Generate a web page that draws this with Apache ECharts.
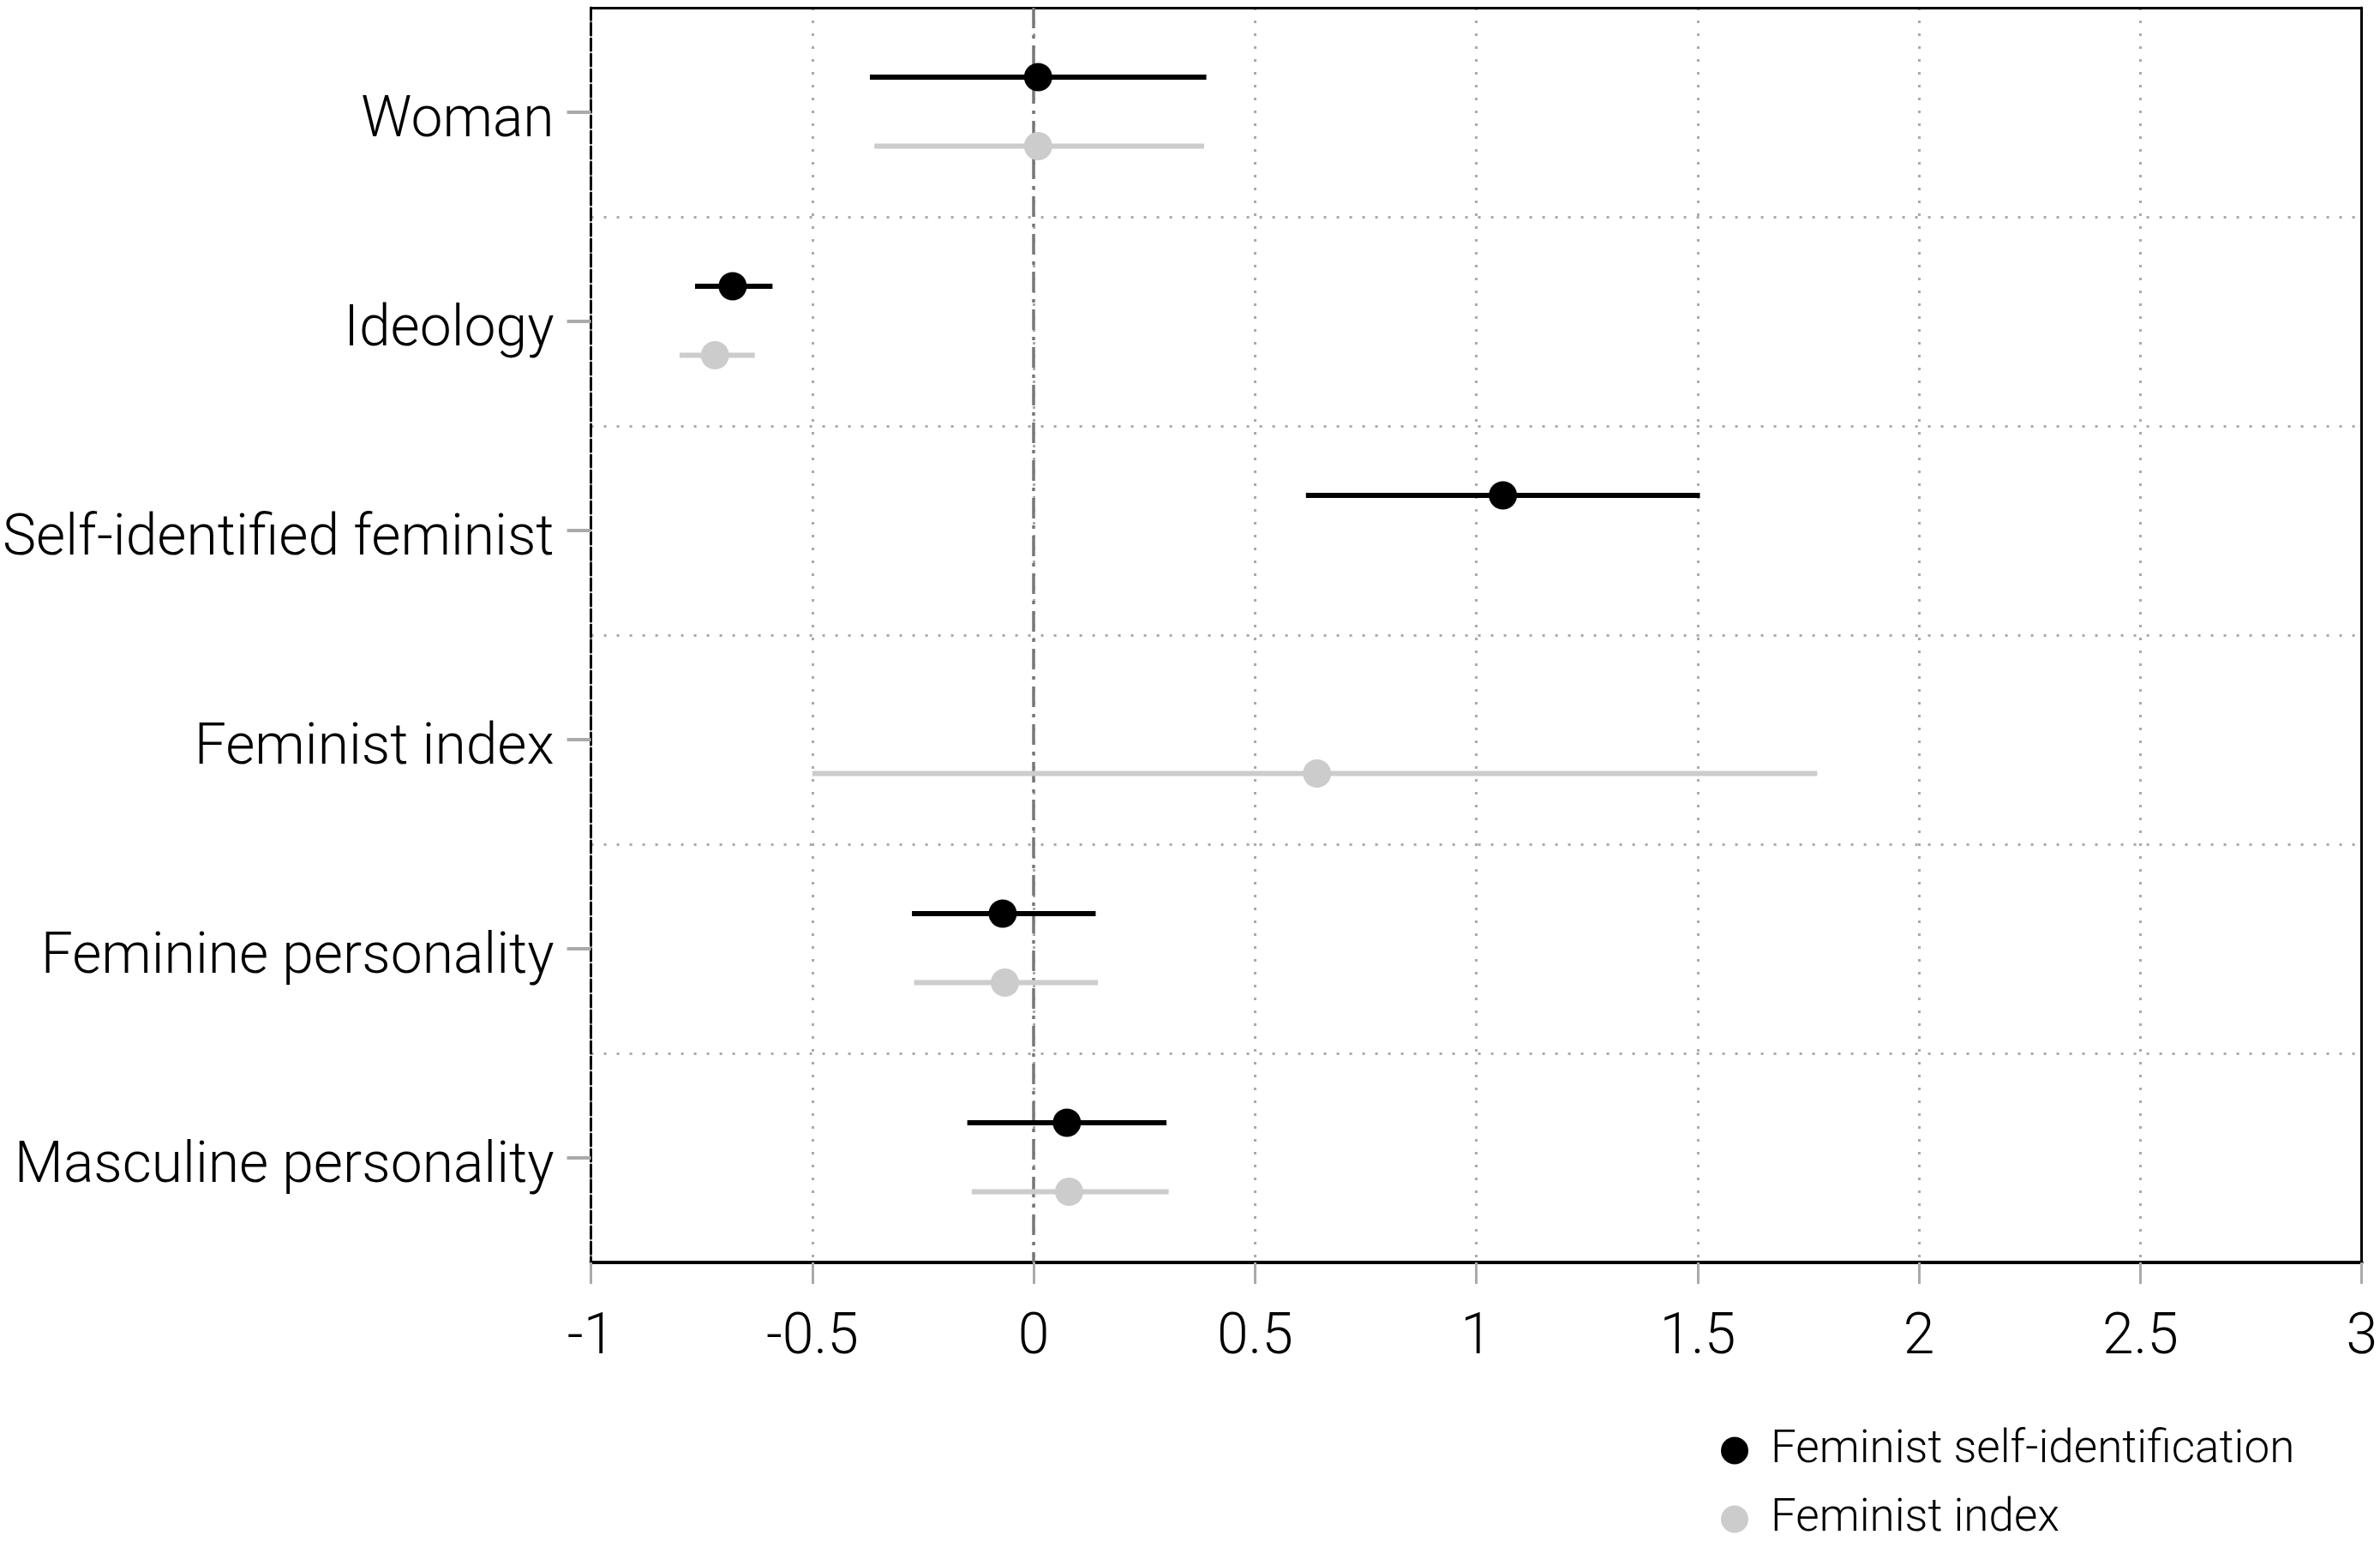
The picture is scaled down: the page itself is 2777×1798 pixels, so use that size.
<!DOCTYPE html>
<html>
<head>
<meta charset="utf-8">
<script src="https://cdn.jsdelivr.net/npm/echarts@6/dist/echarts.min.js"></script>
<style>
html,body{margin:0;padding:0;background:#fff;}
#chart{width:2777px;height:1798px;}
</style>
</head>
<body>
<div id="chart"></div>
<script>
const categories = ['Woman', 'Ideology', 'Self-identified feminist', 'Feminist index', 'Feminine personality', 'Masculine personality'];
const xTicks = [-1, -0.5, 0, 0.5, 1, 1.5, 2, 2.5, 3];
const seriesNames = ['Feminist self-identification', 'Feminist index'];

// Feminist self-identification model
const selfEst = [0.01, -0.68, 1.06, null, -0.07, 0.075];
const selfLo  = [-0.37, -0.765, 0.615, null, -0.275, -0.15];
const selfHi  = [0.39, -0.59, 1.505, null, 0.14, 0.30];

// Feminist index model
const idxEst = [0.01, -0.72, null, 0.64, -0.065, 0.08];
const idxLo  = [-0.36, -0.80, null, -0.50, -0.27, -0.14];
const idxHi  = [0.385, -0.63, null, 1.77, 0.145, 0.305];

function rows(est, lo, hi) {
  const out = [];
  for (let i = 0; i < categories.length; i++) {
    if (est[i] !== null) out.push([i, est[i], lo[i], hi[i]]);
  }
  return out;
}

const FONT = 'Roboto, "Liberation Sans", sans-serif';

function makeRender(offsetFrac, color) {
  return function (params, api) {
    const cat = api.value(0);
    const pEst = api.coord([api.value(1), cat]);
    const pLo = api.coord([api.value(2), cat]);
    const pHi = api.coord([api.value(3), cat]);
    const band = api.size([0, 1])[1];
    const y = pEst[1] + band * offsetFrac;
    return {
      type: 'group',
      children: [
        { type: 'line', shape: { x1: pLo[0], y1: y, x2: pHi[0], y2: y }, style: { stroke: color, lineWidth: 6 } },
        { type: 'circle', shape: { cx: pEst[0], cy: y, r: 16.5 }, style: { fill: color } }
      ]
    };
  };
}

function legendFor(name, top) {
  return {
    orient: 'vertical',
    left: 2003,
    top: top,
    itemWidth: 32,
    itemHeight: 32,
    icon: 'circle',
    textStyle: { fontSize: 53, fontFamily: FONT, fontWeight: 300, color: '#000', padding: [0, 0, 0, 21] },
    data: [name]
  };
}

const chart = echarts.init(document.getElementById('chart'));
chart.setOption({
  backgroundColor: '#fff',
  animation: false,
  textStyle: { fontFamily: FONT },
  grid: { left: 688, right: 16, top: 9, bottom: 325, containLabel: false },
  legend: [legendFor(seriesNames[0], 1661), legendFor(seriesNames[1], 1741)],
  xAxis: [{
    type: 'value',
    min: -1, max: 3, interval: 0.5,
    axisLine: { show: true, onZero: false, lineStyle: { color: '#000', width: 4 } },
    axisTick: { show: true, length: 25, lineStyle: { color: '#aaa', width: 3 } },
    axisLabel: {
      fontSize: 66, fontFamily: FONT, fontWeight: 300, color: '#000', margin: 56,
      formatter: function (v) { return xTicks.indexOf(v) >= 0 ? String(v) : ''; }
    },
    splitLine: { show: true, lineStyle: { color: '#aaa', width: 3, type: [3, 12] } }
  }, {
    type: 'value', position: 'top',
    min: -1, max: 3,
    axisLine: { show: true, onZero: false, lineStyle: { color: '#000', width: 3 } },
    axisTick: { show: false }, axisLabel: { show: false }, splitLine: { show: false }
  }],
  yAxis: [{
    type: 'category',
    inverse: true,
    data: categories,
    axisLine: { show: true, onZero: false, lineStyle: { color: '#000', width: 3, type: [14, 4] } },
    axisTick: { show: true, alignWithLabel: true, length: 28, lineStyle: { color: '#aaa', width: 4 } },
    axisLabel: {
      margin: 43,
      formatter: function (v) { return '{c|' + v + '}'; },
      rich: { c: { fontSize: 66, fontFamily: FONT, fontWeight: 300, color: '#000', padding: [22, 0, 0, 0] } }
    },
    splitLine: { show: true, lineStyle: { color: '#aaa', width: 3, type: [3, 12] } }
  }, {
    type: 'category',
    inverse: true,
    position: 'right',
    data: categories,
    axisLine: { show: true, onZero: false, lineStyle: { color: '#000', width: 3 } },
    axisTick: { show: false }, axisLabel: { show: false }, splitLine: { show: false }
  }],
  series: [{
    name: seriesNames[0],
    type: 'custom',
    renderItem: makeRender(-0.168, '#000'),
    itemStyle: { color: '#000' },
    encode: { x: [1, 2, 3], y: 0 },
    data: rows(selfEst, selfLo, selfHi),
    z: 5,
    markLine: {
      silent: true,
      symbol: 'none',
      label: { show: false },
      lineStyle: { color: '#777', width: 3.5, type: [24, 8, 4, 8] },
      data: [{ xAxis: 0 }],
      z: 3
    }
  }, {
    name: seriesNames[1],
    type: 'custom',
    renderItem: makeRender(0.162, '#cccccc'),
    itemStyle: { color: '#cccccc' },
    encode: { x: [1, 2, 3], y: 0 },
    data: rows(idxEst, idxLo, idxHi),
    z: 4
  }]
});
</script>
</body>
</html>
